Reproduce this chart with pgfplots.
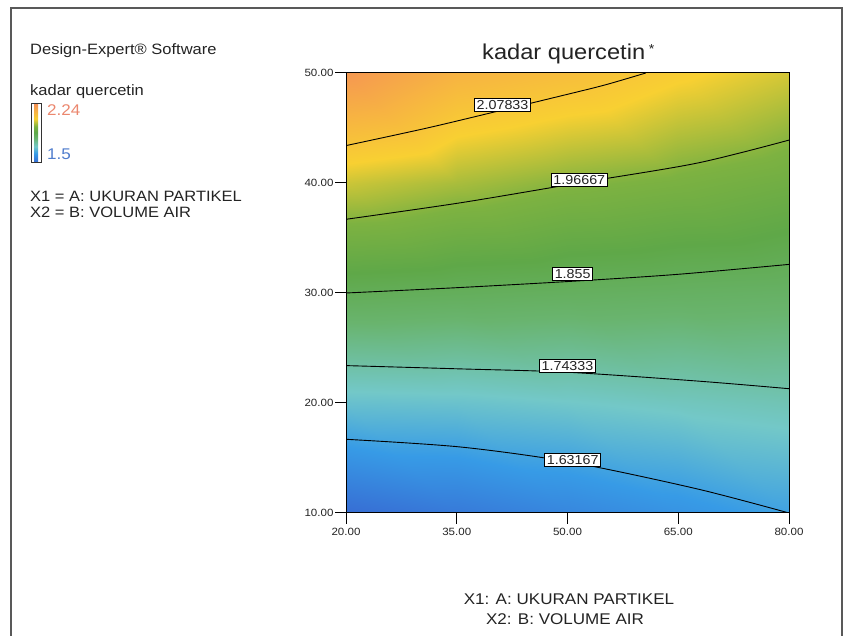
\documentclass[border=0pt]{standalone}
\usepackage{fontspec}
\setmainfont[FakeStretch=1.1]{Liberation Sans}
\usepackage{pgfplots}
\pgfplotsset{compat=1.18}
\definecolor{txt}{RGB}{35,35,35}
\definecolor{hi}{RGB}{235,135,110}
\definecolor{lo}{RGB}{80,125,205}
\pgfdeclareverticalshading{deshade}{20bp}{rgb(0bp)=(0.216,0.412,0.824); rgb(8bp)=(0.216,0.608,0.902); rgb(14bp)=(0.451,0.784,0.784); rgb(21bp)=(0.412,0.706,0.431); rgb(26bp)=(0.373,0.659,0.282); rgb(31bp)=(0.49,0.698,0.255); rgb(37.5bp)=(0.973,0.816,0.196); rgb(50bp)=(0.961,0.569,0.333)}
\begin{document}
\begin{tikzpicture}
\path[use as bounding box] (0pt,0pt) rectangle (845pt,636pt);
\draw[line width=1.1pt, black!65] (11pt,0pt) -- (11pt,628pt) -- (842pt,628pt) -- (842pt,0pt);
% left panel
\node[anchor=base west, inner sep=0pt, text=txt, font=\fontsize{15}{18}\selectfont] at (30pt,581pt) {Design-Expert® Software};
\node[anchor=base west, inner sep=0pt, text=txt, font=\fontsize{15}{18}\selectfont] at (30pt,540pt) {kadar quercetin};
\shade[shading=deshade] (31pt,473pt) rectangle (41pt,532pt);
\draw[line width=1pt, black!80] (31pt,473pt) rectangle (41pt,532pt);
\node[anchor=base west, inner sep=0pt, text=hi, font=\fontsize{15.5}{18}\selectfont] at (47pt,520pt) {2.24};
\node[anchor=base west, inner sep=0pt, text=lo, font=\fontsize{15.5}{18}\selectfont] at (47pt,476pt) {1.5};
\node[anchor=base west, inner sep=0pt, text=txt, font=\fontsize{15}{18}\selectfont] at (30pt,434pt) {X1 = A: UKURAN PARTIKEL};
\node[anchor=base west, inner sep=0pt, text=txt, font=\fontsize{15}{18}\selectfont] at (30pt,418pt) {X2 = B: VOLUME AIR};
% title and axis labels
\node[anchor=base west, inner sep=0pt, text=txt, font=\fontsize{21.5}{24}\selectfont] at (482pt,576pt) {kadar quercetin\,\raisebox{0.3em}{\fontsize{13}{13}\selectfont *}};
\node[anchor=base, inner sep=0pt, text=txt, font=\fontsize{15.5}{18}\selectfont] at (569pt,31pt) {X1: A: UKURAN PARTIKEL};
\node[anchor=base, inner sep=0pt, text=txt, font=\fontsize{15.5}{18}\selectfont] at (565pt,11pt) {X2: B: VOLUME AIR};
\begin{axis}[
  at={(346pt,123pt)}, anchor=south west,
  scale only axis, width=443pt, height=440pt,
  xmin=20, xmax=80, ymin=10, ymax=50,
  xtick={20,35,50,65,80}, ytick={10,20,30,40,50},
  xtick pos=bottom, ytick pos=left,
  tick align=outside, major tick length=11pt,
  tick style={line width=1pt, black},
  axis line style={line width=1pt, black},
  xticklabel style={font=\fontsize{10.5}{12}\selectfont, text=txt, yshift=-1pt},
  yticklabel style={font=\fontsize{10.5}{12}\selectfont, text=txt, xshift=2pt},
  /pgf/number format/.cd, fixed, zerofill, precision=2, assume math mode=true,
  /pgfplots/.cd,
  colormap={de}{rgb255(0pt)=(55,105,210); rgb255(16pt)=(55,155,230); rgb255(28pt)=(115,200,200); rgb255(42pt)=(105,180,110); rgb255(52pt)=(95,168,72); rgb255(62pt)=(125,178,65); rgb255(75pt)=(248,208,50); rgb255(100pt)=(245,145,85)},
  point meta min=1.5, point meta max=2.24,
  axis on top,
  clip=true,
]
\addplot[surf, shader=interp, mesh/cols=5, point meta=explicit] table[x=x, y=y, meta=z] {
x y z
20 10 1.51
35 10 1.54
50 10 1.57
65 10 1.60
80 10 1.632

20 20 1.69
35 20 1.694
50 20 1.705
65 20 1.718
80 20 1.73

20 30 1.855
35 30 1.847
50 30 1.84
65 30 1.834
80 30 1.829

20 40 2.02
35 40 1.993
50 40 1.967
65 40 1.95
80 40 1.928

20 50 2.22
35 50 2.14
50 50 2.11
65 50 2.065
80 50 2.027
};
% contour 2.07833
\addplot[black, line width=0.9pt, smooth] coordinates {(20,43.4) (31,45.0) (41,46.6) (49,47.9) (55,48.9) (60.6,50)};
% contour 1.96667
\addplot[black, line width=0.9pt, smooth] coordinates {(20,36.7) (35.5,38.2) (51.5,40.0) (67.5,41.8) (80,43.9)};
% contour 1.855
\addplot[black, line width=0.9pt, smooth] coordinates {(20,30.0) (35.5,30.5) (51.5,31.1) (65,31.7) (80,32.6)};
% contour 1.74333
\addplot[black, line width=0.9pt, smooth] coordinates {(20,23.4) (35.5,23.1) (49.9,22.8) (67.5,22.0) (80,21.3)};
% contour 1.63167
\addplot[black, line width=0.9pt, smooth] coordinates {(20,16.7) (35.5,16.0) (50.6,14.6) (67.5,12.2) (80,10.0)};
\tikzset{clab/.style={fill=white, draw=black, line width=0.8pt, inner xsep=2pt, inner ysep=2pt, text=txt, font=\fontsize{13}{14}\selectfont}}
\node[clab] at (axis cs:41.2,47.1) {2.07833};
\node[clab] at (axis cs:51.6,40.3) {1.96667};
\node[clab] at (axis cs:50.7,31.7) {1.855};
\node[clab] at (axis cs:50.0,23.4) {1.74333};
\node[clab] at (axis cs:50.7,14.8) {1.63167};
\end{axis}
\end{tikzpicture}
\end{document}
